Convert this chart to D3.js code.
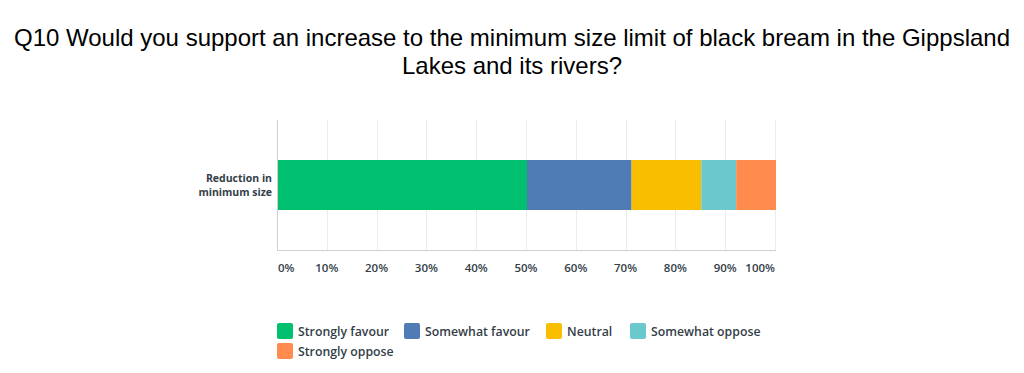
<!DOCTYPE html>
<html>
<head>
<meta charset="utf-8">
<script src="https://cdn.jsdelivr.net/npm/d3@7"></script>
<style>
  body { margin: 0; background: #fff; }
  svg { display: block; }
</style>
</head>
<body>
<svg id="chart" width="1024" height="373"></svg>
<script>
// data
var titleLines = ["Q10 Would you support an increase to the minimum size limit of black bream in the Gippsland",
                  "Lakes and its rivers?"];
var categories = ["Reduction in minimum size"];
var series = ["Strongly favour", "Somewhat favour", "Neutral", "Somewhat oppose", "Strongly oppose"];
var values = [50, 21, 14, 7, 8];   // percent, one row
var colors = ["#00bf6f", "#507cb6", "#f9be00", "#6bc8cd", "#ff8b4f"];
var ticks = [0, 10, 20, 30, 40, 50, 60, 70, 80, 90, 100];

var svg = d3.select("#chart");
var textColor = "#333e48";
var uiFont = "'Open Sans', Lato, sans-serif";

// title
svg.append("g").selectAll("text")
    .data(titleLines)
    .enter().append("text")
    .attr("x", 512)
    .attr("y", function (d, i) { return 46 + i * 28; })
    .attr("text-anchor", "middle")
    .attr("font-family", "'Liberation Sans', Arial, sans-serif")
    .attr("font-size", 24)
    .attr("fill", "#000")
    .text(function (d) { return d; });

var plotLeft = 278, plotRight = 776, plotTop = 120, plotBottom = 250;
var x = d3.scaleLinear().domain([0, 100]).range([plotLeft, plotRight]);
var y = d3.scaleBand().domain(categories).range([plotTop, plotBottom]).paddingInner(0).paddingOuter(0.8);

// gridlines
svg.append("g").selectAll("line")
    .data(ticks.slice(1))
    .enter().append("line")
    .attr("x1", function (d) { return Math.round(x(d)) - 0.5; })
    .attr("x2", function (d) { return Math.round(x(d)) - 0.5; })
    .attr("y1", plotTop)
    .attr("y2", plotBottom)
    .attr("stroke", "#ebebeb")
    .attr("stroke-width", 1);

// stacked segments
var stacked = [];
var acc = 0;
values.forEach(function (v, i) {
    stacked.push({ start: acc, end: acc + v, color: colors[i], name: series[i] });
    acc += v;
});

svg.append("g").selectAll("rect")
    .data(stacked)
    .enter().append("rect")
    .attr("x", function (d) { return x(d.start); })
    .attr("width", function (d) { return x(d.end) - x(d.start); })
    .attr("y", y(categories[0]))
    .attr("height", y.bandwidth())
    .attr("fill", function (d) { return d.color; });

// axes lines
svg.append("line")
    .attr("x1", plotLeft - 0.5).attr("x2", plotLeft - 0.5)
    .attr("y1", plotTop).attr("y2", plotBottom)
    .attr("stroke", "#d0d0d0");
svg.append("line")
    .attr("x1", plotLeft - 1).attr("x2", plotRight)
    .attr("y1", plotBottom + 0.5).attr("y2", plotBottom + 0.5)
    .attr("stroke", "#d0d0d0");

// x tick labels
svg.append("g").selectAll("text")
    .data(ticks)
    .enter().append("text")
    .attr("x", function (d) { return d === 0 ? x(d) : x(d) - 1; })
    .attr("y", 272)
    .attr("text-anchor", function (d) { return d === 0 ? "start" : d === 100 ? "end" : "middle"; })
    .attr("font-family", uiFont)
    .attr("font-size", 11.5)
    .attr("font-weight", 600)
    .attr("fill", textColor)
    .text(function (d) { return d + "%"; });

// y category label (wrapped)
var catLines = ["Reduction in", "minimum size"];
svg.append("g").selectAll("text")
    .data(catLines)
    .enter().append("text")
    .attr("x", 272)
    .attr("y", function (d, i) { return y(categories[0]) + y.bandwidth() / 2 - 3 + i * 14; })
    .attr("text-anchor", "end")
    .attr("font-family", uiFont)
    .attr("font-weight", "bold")
    .attr("font-size", 10.5)
    .attr("fill", textColor)
    .text(function (d) { return d; });

// legend
var legendPos = [[277, 323], [404, 323], [546, 323], [630, 323], [277, 343]];
var legend = svg.append("g").selectAll("g")
    .data(series)
    .enter().append("g")
    .attr("transform", function (d, i) { return "translate(" + legendPos[i][0] + "," + legendPos[i][1] + ")"; });

legend.append("rect")
    .attr("width", 16)
    .attr("height", 16)
    .attr("rx", 2)
    .attr("fill", function (d, i) { return colors[i]; });

legend.append("text")
    .attr("x", 21)
    .attr("y", 13)
    .attr("font-family", uiFont)
    .attr("font-size", 12.3)
    .attr("font-weight", 600)
    .attr("fill", textColor)
    .text(function (d) { return d; });
</script>
</body>
</html>
